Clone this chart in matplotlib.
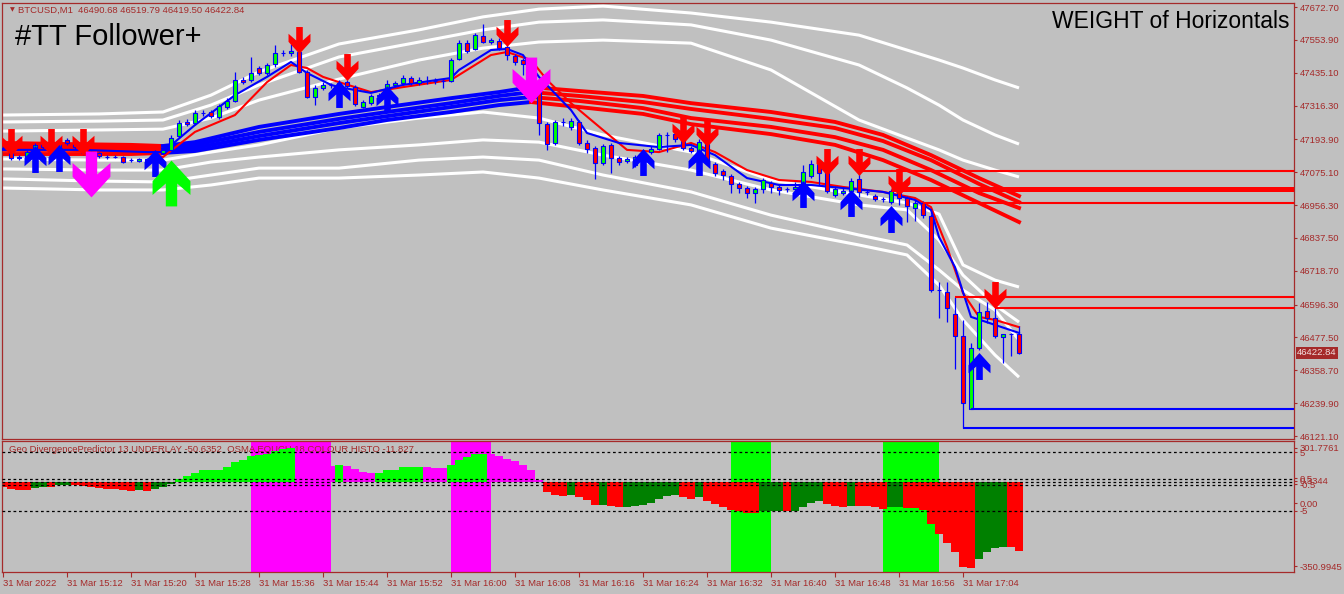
import numpy as np
import matplotlib
matplotlib.use("Agg")
import matplotlib.pyplot as plt
from matplotlib.path import Path
from matplotlib.transforms import blended_transform_factory

plt.rcParams['font.family'] = ['Liberation Sans', 'DejaVu Sans']

# ---- M1 candles, BTCUSD, 31 Mar 2022 from 15:04 ----
opens = [47163, 47163, 47127, 47130, 47137, 47181, 47163, 47145, 47192, 47181,
         47163, 47145, 47145, 47130, 47130, 47130, 47119, 47116, 47123, 47116,
         47145, 47156, 47206, 47257, 47253, 47289, 47293, 47275, 47311, 47333,
         47409, 47409, 47452, 47434, 47467, 47506, 47506, 47510, 47438, 47347,
         47380, 47391, 47387, 47401, 47383, 47311, 47325, 47351, 47351, 47391,
         47398, 47416, 47398, 47405, 47405, 47405, 47405, 47485, 47542, 47521,
         47568, 47546, 47550, 47528, 47495, 47481, 47456, 47383, 47249, 47181,
         47257, 47239, 47257, 47181, 47163, 47108, 47174, 47127, 47116, 47101,
         47130, 47148, 47159, 47210, 47213, 47192, 47163, 47148, 47181, 47105,
         47080, 47061, 47033, 47018, 47000, 47014, 47036, 47022, 47014, 47014,
         47014, 47061, 47105, 47076, 46993, 47000, 47007, 47051, 47004, 46989,
         46978, 46967, 47007, 46982, 46946, 46964, 46917, 46649, 46642, 46562,
         46483, 46219, 46439, 46573, 46548, 46479, 46490, 46490.68]
highs = [47170, 47166, 47137, 47156, 47181, 47188, 47170, 47195, 47199, 47188,
         47170, 47152, 47148, 47137, 47137, 47134, 47127, 47127, 47127, 47152,
         47159, 47210, 47264, 47268, 47300, 47300, 47300, 47322, 47343, 47438,
         47420, 47492, 47459, 47470, 47535, 47517, 47539, 47524, 47445, 47391,
         47401, 47398, 47409, 47409, 47391, 47336, 47358, 47362, 47409, 47405,
         47427, 47423, 47420, 47423, 47416, 47412, 47488, 47553, 47553, 47579,
         47611, 47561, 47561, 47535, 47503, 47488, 47481, 47391, 47257, 47264,
         47271, 47271, 47264, 47192, 47170, 47177, 47181, 47134, 47130, 47137,
         47156, 47170, 47217, 47221, 47221, 47199, 47170, 47195, 47188, 47112,
         47087, 47069, 47040, 47025, 47022, 47054, 47043, 47029, 47022, 47040,
         47101, 47119, 47119, 47090, 47025, 47018, 47054, 47076, 47011, 46996,
         46985, 47014, 47014, 46989, 46975, 46971, 46924, 46678, 46678, 46624,
         46541, 46457, 46602, 46606, 46584, 46490, 46494, 46519.79]
lows = [47156, 47119, 47119, 47127, 47130, 47159, 47141, 47137, 47174, 47159,
        47137, 47137, 47127, 47123, 47127, 47108, 47112, 47112, 47108, 47108,
        47141, 47152, 47199, 47242, 47246, 47278, 47271, 47268, 47304, 47329,
        47394, 47401, 47427, 47427, 47456, 47495, 47495, 47434, 47343, 47318,
        47372, 47380, 47380, 47380, 47315, 47307, 47318, 47336, 47343, 47383,
        47391, 47391, 47391, 47394, 47394, 47380, 47401, 47481, 47506, 47517,
        47542, 47539, 47517, 47481, 47463, 47427, 47365, 47210, 47156, 47174,
        47242, 47228, 47174, 47145, 47051, 47101, 47072, 47101, 47108, 47094,
        47119, 47141, 47156, 47148, 47184, 47156, 47145, 47145, 47101, 47061,
        47047, 47000, 47000, 46982, 46964, 47000, 47000, 46993, 47004, 47011,
        47004, 47054, 47029, 47000, 46985, 46993, 46993, 46985, 46993, 46971,
        46967, 46960, 46957, 46895, 46899, 46910, 46642, 46548, 46533, 46363,
        46150, 46219, 46432, 46530, 46476, 46385, 46410, 46419.50]
closes = [47163, 47127, 47130, 47148, 47174, 47166, 47148, 47188, 47181, 47166,
          47145, 47148, 47134, 47130, 47131, 47112, 47119, 47123, 47112, 47145,
          47156, 47199, 47253, 47249, 47289, 47290, 47278, 47315, 47333, 47409,
          47401, 47434, 47434, 47463, 47506, 47507, 47514, 47438, 47347, 47380,
          47391, 47392, 47398, 47387, 47322, 47329, 47351, 47354, 47394, 47398,
          47416, 47398, 47409, 47406, 47404, 47406, 47481, 47542, 47514, 47571,
          47546, 47553, 47524, 47499, 47474, 47467, 47387, 47253, 47177, 47257,
          47255, 47260, 47181, 47159, 47108, 47170, 47127, 47112, 47123, 47130,
          47148, 47159, 47210, 47209, 47195, 47163, 47152, 47184, 47108, 47072,
          47065, 47033, 47018, 47000, 47014, 47047, 47022, 47011, 47013, 47022,
          47076, 47105, 47072, 47007, 47014, 47007, 47043, 47004, 47003, 46978,
          46977, 47007, 46982, 46953, 46964, 46920, 46649, 46648, 46584, 46483,
          46241, 46439, 46570, 46548, 46483, 46490, 46491, 46422.84]

# ---- white envelope bands ----
band_bars = [0, 12, 20, 26, 32, 42, 52, 60, 67, 75, 86, 96, 107, 113, 117, 120, 124, 127]
band_up1 = [47282, 47286, 47293, 47354, 47438, 47539, 47590, 47637, 47665, 47676,
            47651, 47618, 47571, 47517, 47481, 47452, 47409, 47380]
band_up2 = [47257, 47260, 47264, 47318, 47391, 47492, 47546, 47590, 47618, 47626,
            47608, 47553, 47463, 47380, 47318, 47264, 47210, 47177]
band_up3 = [47224, 47228, 47231, 47271, 47336, 47412, 47481, 47524, 47546, 47553,
            47542, 47445, 47264, 47199, 47156, 47119, 47083, 47058]
band_lo1 = [47123, 47119, 47119, 47148, 47174, 47235, 47271, 47293, 47271, 47210,
            47148, 47047, 46993, 46964, 46924, 46740, 46685, 46660]
band_lo2 = [47087, 47083, 47083, 47112, 47130, 47156, 47174, 47192, 47184, 47137,
            47083, 47011, 46957, 46939, 46830, 46703, 46595, 46533]
band_lo3 = [47051, 47043, 47040, 47065, 47090, 47090, 47119, 47130, 47119, 47065,
            47004, 46920, 46848, 46812, 46722, 46649, 46577, 46468]
band_lo4 = [47018, 47011, 47011, 47029, 47054, 47054, 47065, 47076, 47054, 47011,
            46957, 46873, 46812, 46776, 46667, 46541, 46414, 46334]

# ---- slow moving averages (thick) ----
ma_bars = [0, 8, 16, 20, 24, 32, 42, 48, 56, 62, 66, 72, 80, 86, 96, 104, 110, 116, 122, 127]
ma1 = [47181, 47177, 47174, 47170, 47184, 47239, 47286, 47311, 47343, 47365,
       47383, 47369, 47351, 47325, 47293, 47257, 47210, 47137, 47054, 46989]
ma2 = [47170, 47166, 47163, 47159, 47174, 47221, 47268, 47293, 47325, 47351,
       47365, 47351, 47329, 47304, 47268, 47235, 47188, 47119, 47033, 46967]
ma3 = [47156, 47156, 47152, 47152, 47163, 47206, 47253, 47278, 47311, 47336,
       47347, 47333, 47307, 47271, 47239, 47202, 47156, 47083, 47000, 46946]
ma4 = [47141, 47141, 47141, 47145, 47152, 47192, 47235, 47264, 47293, 47318,
       47329, 47311, 47286, 47249, 47213, 47174, 47119, 47047, 46964, 46895]
ma_up_from, ma_up_to = 20, 66

# ---- fast moving averages (thin) ----
red_ma_bars = [0, 10, 18, 20, 24, 29, 33, 36, 38, 40, 42, 46, 50, 56, 61, 63, 66, 68,
               71, 75, 78, 82, 86, 89, 93, 97, 101, 105, 110, 114, 116, 118, 120, 122, 124, 127]
red_ma = [47156, 47156, 47145, 47130, 47221, 47282, 47401, 47463, 47452, 47420, 47401, 47365,
          47383, 47409, 47499, 47510, 47481, 47409, 47325, 47228, 47156, 47148, 47181, 47148,
          47083, 47047, 47040, 47022, 47004, 46982, 46949, 46805, 46638, 46552, 46541, 46515]
blue_ma_bars = [0, 10, 18, 20, 24, 29, 33, 36, 38, 41, 42, 46, 50, 56, 57, 61, 63, 65, 67,
                71, 73, 77, 82, 86, 89, 93, 97, 101, 105, 110, 114, 116, 117, 119, 121, 124, 127]
blue_ma = [47156, 47156, 47148, 47148, 47246, 47354, 47420, 47474, 47434, 47391, 47383, 47362,
           47391, 47416, 47445, 47517, 47521, 47499, 47420, 47300, 47217, 47181, 47166, 47174,
           47137, 47054, 47029, 47029, 47018, 47004, 46975, 46939, 46841, 46732, 46552, 46523, 46494]

# ---- horizontal levels ----
res_levels = [47078, 47014, 46964, 46624, 46584]
res_from = [107, 111, 115, 119, 124]
res_width = [1.5, 3.6, 1.5, 1.5, 1.5]
sup_levels = [46150, 46219]
sup_from = [120, 121]

# ---- signal arrows ----
sell_bars = [1, 6, 10, 37, 43, 63, 85, 88, 103, 107, 112, 124]
sell_price = [47184, 47184, 47184, 47553, 47454, 47577, 47228, 47217, 47112, 47112, 47040, 46631]
buy_bars = [4, 7, 19, 42, 48, 80, 87, 100, 106, 111, 122]
buy_price = [47123, 47127, 47108, 47358, 47340, 47112, 47112, 46996, 46964, 46906, 46374]
big_sell_bars = [11, 66]
big_sell_price = [47067, 47409]
big_buy_bars = [21]
big_buy_price = [47036]

# ---- oscillator histogram ----
hist_vals = [-0.91, -1.30, -1.47, -1.47, -1.08, -0.91, -0.91, -0.62, -0.62, -0.62,
             -0.68, -0.91, -1.08, -1.30, -1.30, -1.47, -1.59, -1.36, -1.59, -1.30,
             -0.91, -0.34, 0.45, 0.91, 1.53, 1.93, 1.93, 2.04, 2.49, 3.29,
             3.63, 4.31, 4.48, 4.76, 5.16, 5.50, 5.73, 5.20, 4.50, 3.80,
             3.10, 2.66, 2.78, 2.61, 2.10, 1.64, 1.47, 1.47, 1.93, 2.04,
             2.49, 2.49, 2.49, 2.49, 2.27, 2.27, 2.78, 3.63, 4.20, 4.65,
             4.65, 4.65, 4.31, 3.85, 3.46, 2.78, 1.93, 0.23, -1.76, -2.21,
             -2.44, -2.21, -2.61, -3.17, -3.97, -3.97, -4.14, -4.31, -4.31, -4.14,
             -3.97, -3.63, -3.00, -2.49, -2.32, -2.61, -2.95, -2.61, -3.29, -3.74,
             -4.31, -4.88, -5.05, -5.44, -5.44, -5.05, -5.05, -5.05, -5.05, -4.99,
             -4.31, -3.63, -3.34, -3.74, -4.14, -4.31, -4.14, -4.14, -4.14, -4.31,
             -4.71, -4.31, -4.31, -4.48, -4.48, -4.88, -7.26, -8.96, -10.43, -11.96,
             -14.51, -14.74, -13.10, -11.96, -11.39, -11.22, -11.22, -11.83]
hist_state = ("rrrrggrggr" "rrrrrrrgrg" "ggllllllll" "lllllllmmm" "mmlmmmmlll"
              "lllmmmllll" "lmmmmmmmrr" "rgrrrgrrgg" "gggggrrgrr" "rrrrrgggrg"
              "gggrrrgrrr" "rggrrrrrrr" "rrggggrr")
osc_levels = [5, 0.4, 0.0, -0.6, -5]
magenta_zones = [(31, 41), (56, 61)]
green_zones = [(91, 96), (110, 117)]

price_ticks = [47672.70, 47553.90, 47435.10, 47316.30, 47193.90, 47075.10, 46956.30,
               46837.50, 46718.70, 46596.30, 46477.50, 46358.70, 46239.90, 46121.10]
osc_ticks = [5.70, 5.0, 0.55, 0.15, -0.45, -3.66, -5.0, -14.37]
osc_tick_labels = ['301.7761', '5', '0.5', '0.3344', '-0.5', '0.00', '-5', '-350.9945']
time_ticks = list(range(0, 121, 8))
time_labels = ['31 Mar 2022', '31 Mar 15:12', '31 Mar 15:20', '31 Mar 15:28', '31 Mar 15:36',
               '31 Mar 15:44', '31 Mar 15:52', '31 Mar 16:00', '31 Mar 16:08', '31 Mar 16:16',
               '31 Mar 16:24', '31 Mar 16:32', '31 Mar 16:40', '31 Mar 16:48', '31 Mar 16:56',
               '31 Mar 17:04']

BG = '#c0c0c0'
FRAME = '#a52a2a'
RED, BLUE, LIME, DKGREEN, MAGENTA = '#ff0000', '#0000ff', '#00ff00', '#008000', '#ff00ff'
W, H = 1344, 594


def px_box(l, t, r, b):
    return [l / W, 1 - b / H, (r - l) / W, (b - t) / H]


def arrow_marker(hw, h, up=False):
    # chevron arrow with stem, in pixels, centred on the point
    s = -1 if up else 1
    pts = [(-0.3, 0), (0.3, 0), (0.3, 0.5), (1.0, 0.25), (1.0, 0.55),
           (0, 1.0), (-1.0, 0.55), (-1.0, 0.25), (-0.3, 0.5)]
    verts = [(u * hw, s * (h / 2 - v * h)) for u, v in pts]
    verts.append(verts[0])
    codes = [Path.MOVETO] + [Path.LINETO] * (len(pts) - 1) + [Path.CLOSEPOLY]
    return Path(verts, codes)


fig = plt.figure(figsize=(13.44, 5.94), dpi=100, facecolor=BG)
ax = fig.add_axes(px_box(2, 3, 1294, 439))
axi = fig.add_axes(px_box(2, 441, 1294, 572), sharex=ax)
xmin, xmax = -0.125, 161.375

for a in (ax, axi):
    a.set_facecolor(BG)
    for sp in a.spines.values():
        sp.set_color(FRAME)
        sp.set_linewidth(0.9)
    a.yaxis.tick_right()
    a.tick_params(axis='y', direction='out', length=2.5, width=0.8, color=FRAME,
                  labelcolor=FRAME, labelsize=6.8, pad=1.5)

# ---------- main price panel ----------
x = np.arange(len(closes))
o, h, l, c = map(np.array, (opens, highs, lows, closes))

for band in (band_up1, band_up2, band_up3, band_lo1, band_lo2, band_lo3, band_lo4):
    ax.plot(band_bars, band, color='white', lw=2.2, zorder=1, solid_capstyle='butt')

mb = np.array(ma_bars)
left = mb <= ma_up_from
mid = (mb >= ma_up_from) & (mb <= ma_up_to)
right = mb >= ma_up_to
for m in (ma1, ma2, ma3, ma4):
    m = np.array(m)
    ax.plot(mb[left], m[left], color=RED, lw=2.8, zorder=2)
    ax.plot(mb[mid], m[mid], color=BLUE, lw=2.8, zorder=2)
    ax.plot(mb[right], m[right], color=RED, lw=2.8, zorder=2)

ax.plot(red_ma_bars, red_ma, color=RED, lw=1.5, zorder=3)
ax.plot(blue_ma_bars, blue_ma, color=BLUE, lw=1.5, zorder=3)

ax.vlines(x, l, h, color=BLUE, lw=0.9, zorder=4)
bull = c >= o
ax.bar(x, np.abs(c - o), bottom=np.minimum(o, c), width=0.62,
       color=np.where(bull, LIME, RED), edgecolor=BLUE, linewidth=0.8, zorder=5)

for lvl, start, lw in zip(res_levels, res_from, res_width):
    ax.hlines(lvl, start, xmax, color=RED, lw=lw, zorder=6)
for lvl, start in zip(sup_levels, sup_from):
    ax.hlines(lvl, start, xmax, color=BLUE, lw=1.5, zorder=6)

small_dn = arrow_marker(11, 27)
small_up = arrow_marker(11, 27, up=True)
big_dn = arrow_marker(19, 46)
big_up = arrow_marker(19, 46, up=True)
ax.plot(sell_bars, sell_price, ls='none', marker=small_dn, ms=19.4, mfc=RED, mec=RED, mew=0, zorder=7)
ax.plot(buy_bars, buy_price, ls='none', marker=small_up, ms=19.4, mfc=BLUE, mec=BLUE, mew=0, zorder=7)
ax.plot(big_sell_bars, big_sell_price, ls='none', marker=big_dn, ms=33, mfc=MAGENTA, mec=MAGENTA, mew=0, zorder=7)
ax.plot(big_buy_bars, big_buy_price, ls='none', marker=big_up, ms=33, mfc=LIME, mec=LIME, mew=0, zorder=7)

ax.set_xlim(xmin, xmax)
ax.set_ylim(46110.3, 47687.2)
ax.set_yticks(price_ticks)
ax.set_yticklabels([f'{v:.2f}' for v in price_ticks])
ax.tick_params(axis='x', bottom=False, labelbottom=False)

tr = blended_transform_factory(ax.transAxes, ax.transData)
ax.text(1.0025, closes[-1], f'{closes[-1]:.2f}', transform=tr, fontsize=6.8,
        color='#f2e0e0', va='center', ha='left', zorder=10,
        bbox=dict(boxstyle='square,pad=0.15', fc=FRAME, ec='none'))

fig.text(10 / W, 1 - 10 / H, '\u25bc', fontsize=4.5, color=FRAME, va='center',
         family=['DejaVu Sans'])
fig.text(18 / W, 1 - 10 / H,
         f'BTCUSD,M1  {opens[-1]:.2f} {highs[-1]:.2f} {lows[-1]:.2f} {closes[-1]:.2f}',
         fontsize=6.8, color=FRAME, va='center')
fig.text(15 / W, 1 - 37 / H, '#TT Follower+', fontsize=21, color='black', va='center')
fig.text(1290 / W, 1 - 22 / H, 'WEIGHT of Horizontals', fontsize=16.5, color='black',
         va='center', ha='right')

# ---------- oscillator panel ----------
for a0, a1 in magenta_zones:
    axi.axvspan(a0, a1, color=MAGENTA, lw=0, zorder=0.5)
for a0, a1 in green_zones:
    axi.axvspan(a0, a1, color=LIME, lw=0, zorder=0.5)

state_col = {'r': RED, 'g': DKGREEN, 'l': LIME, 'm': MAGENTA}
axi.text(7 / 1292, 0.935, 'Geo DivergencePredictor 13 UNDERLAY -50.6352  OSMA EQUCH 18 COLOUR HISTO -11.827',
         transform=axi.transAxes, fontsize=6.8, color=FRAME, va='center', zorder=1)
axi.bar(x, hist_vals, width=1.0, color=[state_col[s] for s in hist_state], lw=0, zorder=2)
for lvl in osc_levels:
    axi.axhline(lvl, color='black', lw=0.9, ls=(0, (2.2, 2.2)), zorder=3)

axi.set_ylim(-15.39, 6.89)
axi.set_yticks(osc_ticks)
axi.set_yticklabels(osc_tick_labels)
axi.set_xlim(xmin, xmax)
axi.set_xticks(time_ticks)
axi.set_xticklabels(time_labels, ha='left')
axi.tick_params(axis='x', direction='out', length=3.5, width=0.8, color=FRAME,
                labelcolor=FRAME, labelsize=6.8, pad=1.5)

fig.savefig('out.png', dpi=100, facecolor=BG)
